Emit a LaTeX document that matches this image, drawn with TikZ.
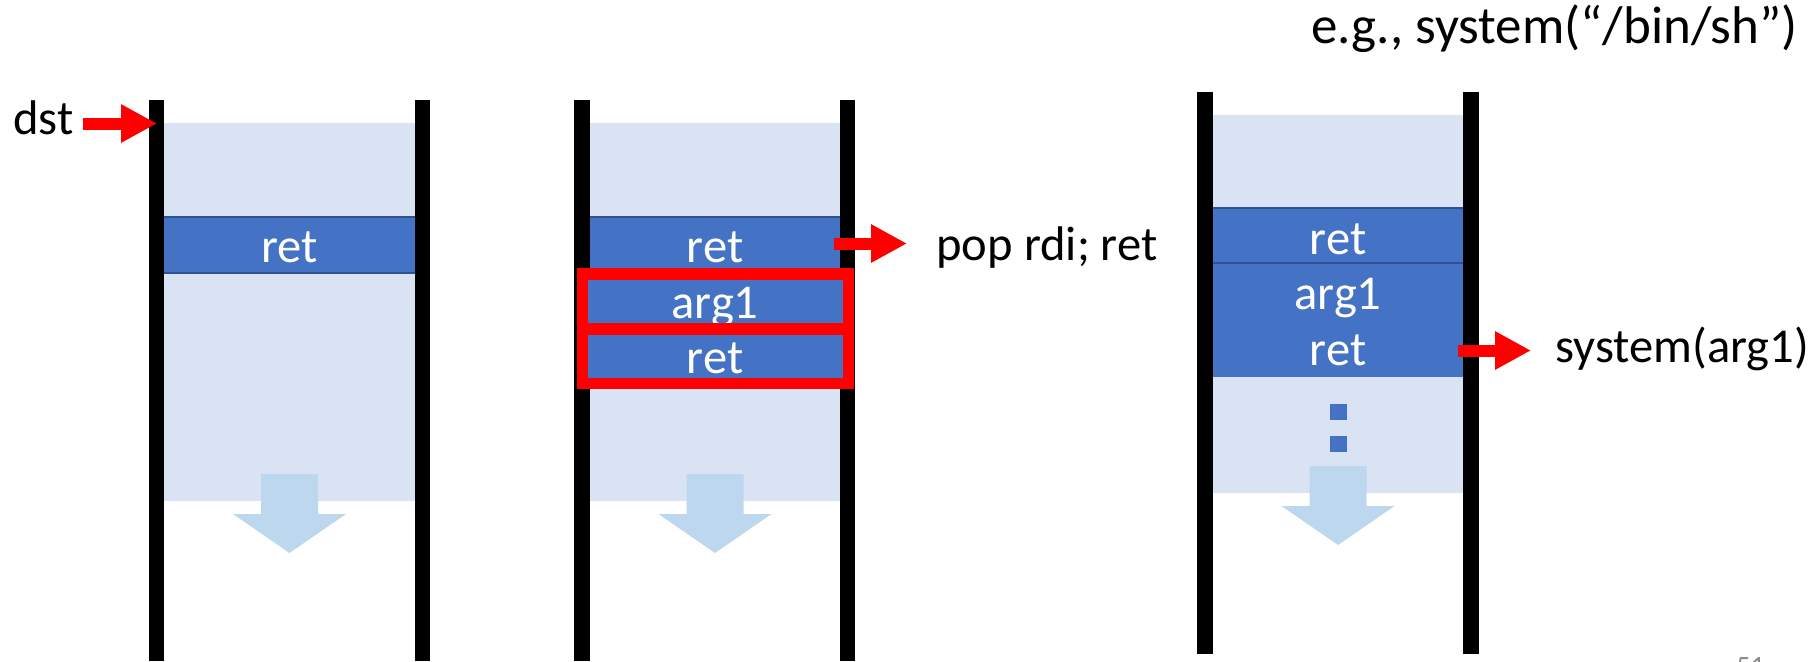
\documentclass[tikz,border=0pt]{standalone}
\usepackage{fontspec}
\setmainfont{Carlito}
\usetikzlibrary{arrows.meta}
\definecolor{bandblue}{HTML}{4472C4}
\definecolor{bandedge}{HTML}{2F528F}
\definecolor{stackfill}{HTML}{DAE3F3}
\definecolor{growcol}{HTML}{BDD7EE}
\definecolor{pagegray}{HTML}{8C8C8C}
\newcommand\lblfont{\fontsize{24.3pt}{29pt}\selectfont}
\newcommand\toplblfont{\fontsize{26.5pt}{31pt}\selectfont}
\begin{document}
\begin{tikzpicture}[x=0.5pt,y=-0.5pt,
  stackbg/.style={fill=stackfill},
  stackbar/.style={fill=black},
  cell/.style={fill=bandblue},
  celledge/.style={draw=bandedge, line width=1pt},
  thinedge/.style={draw=bandedge, line width=0.6pt},
  celltext/.style={text=white, anchor=base, font=\lblfont, inner sep=0pt},
  lbl/.style={anchor=base west, font=\lblfont, inner sep=0pt},
  redarr/.style={draw=red, line width=6pt, -{Triangle[length=18pt,width=18pt]}},
  redframe/.style={draw=red, line width=5.75pt},
  downarrow/.pic={\fill[growcol] (-28.5,0) -- (28.5,0) -- (28.5,40) -- (56.5,40) -- (0,79) -- (-56.5,40) -- (-28.5,40) -- cycle;}
]
\useasboundingbox (0,0) rectangle (1818,661);
\clip (0,0) rectangle (1818,661);

% ---------- panel 1 ----------
\fill[stackbg] (164,123) rectangle (415,501);
\pic at (289.5,474) {downarrow};
\fill[cell] (164,217) rectangle (415,273);
\draw[celledge] (164,217) -- (415,217);
\draw[celledge] (164,273) -- (415,273);
\node[celltext] (p1ret) at (289.5,262) {ret};
\fill[stackbar] (149,100) rectangle (164,661);
\fill[stackbar] (415,100) rectangle (430,661);

% ---------- panel 2 ----------
\fill[stackbg] (590,123) rectangle (840,501);
\pic at (715,474) {downarrow};
\fill[cell] (590,217) rectangle (840,274);
\draw[celledge] (590,217) -- (840,217);
\fill[stackbar] (574,100) rectangle (590,661);
\fill[stackbar] (840,100) rectangle (855,661);
\fill[cell] (582.5,274) rectangle (848.5,383.5);
\node[celltext] (p2ret) at (715,262) {ret};
\node[celltext] (p2arg) at (715,318) {arg1};
\node[celltext] (p2ret2) at (715,373) {ret};
\draw[redframe] (582.5,274) rectangle (848.5,329);
\draw[redframe] (582.5,329) rectangle (848.5,383.5);

% ---------- panel 3 ----------
\fill[stackbg] (1213,115) rectangle (1463,493);
\pic at (1338,466) {downarrow};
\fill[cell] (1330,404) rectangle (1347,420);
\fill[cell] (1330,436) rectangle (1347,452);
\fill[cell] (1213,208) rectangle (1463,377);
\draw[celledge] (1213,208) -- (1463,208);
\draw[thinedge] (1213,263) -- (1463,263);
\node[celltext] (p3ret) at (1338,254) {ret};
\node[celltext] (p3arg) at (1338,309) {arg1};
\node[celltext] (p3ret2) at (1338,365) {ret};
\fill[stackbar] (1197,92) rectangle (1213,654);
\fill[stackbar] (1463,92) rectangle (1479,654);

% ---------- labels and red arrows ----------
\node[lbl, anchor=base east] (dst) at (74,134) {dst};
\coordinate (dsttail) at (83,123.5);
\coordinate (dsttip) at (157,123.5);
\draw[redarr] (dsttail) -- (dsttip);

\node[lbl] (pop) at (936,260) {pop rdi; ret};
\coordinate (poptail) at (834,243.5);
\coordinate (poptip) at (907,243.5);
\draw[redarr] (poptail) -- (poptip);

\node[lbl] (sysarg) at (1555,362) {system(arg1)};
\coordinate (systail) at (1458,350.5);
\coordinate (systip) at (1531,350.5);
\draw[redarr] (systail) -- (systip);

\node[anchor=base west, font=\toplblfont, inner sep=0pt] (eg) at (1311,43) {e.g., system(“/bin/sh”)};

\node[anchor=base west, font=\fontsize{14pt}{16pt}\selectfont, text=pagegray, inner sep=0pt] (pgnum) at (1736,675) {51};
\end{tikzpicture}
\end{document}
